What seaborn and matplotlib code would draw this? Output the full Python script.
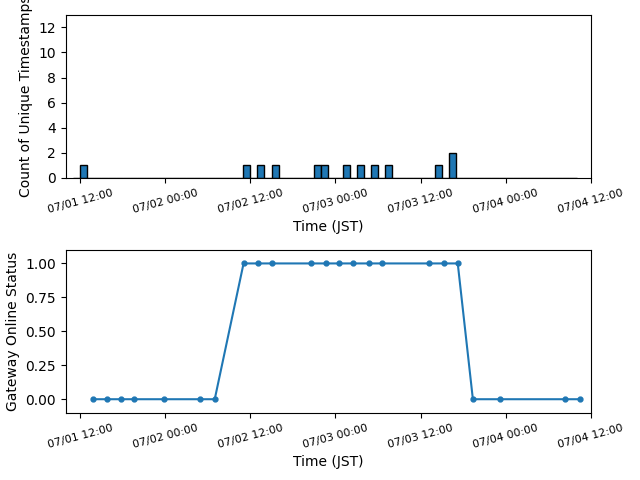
import matplotlib
matplotlib.use("Agg")
import matplotlib.pyplot as plt
import matplotlib.dates as mdates
import matplotlib.ticker as mticker
import seaborn as sns
import pandas as pd
import numpy as np

# Histogram: hourly bins, start time of each non-empty bin and its count
hist_bin_start = ["2024-07-01 12:00", "2024-07-02 11:00", "2024-07-02 13:00",
                  "2024-07-02 15:00", "2024-07-02 21:00", "2024-07-02 22:00",
                  "2024-07-03 01:00", "2024-07-03 03:00", "2024-07-03 05:00",
                  "2024-07-03 07:00", "2024-07-03 14:00", "2024-07-03 16:00"]
hist_counts = [1, 1, 1, 1, 1, 1, 1, 1, 1, 1, 1, 2]
hist_range = ["2024-07-01 11:00", "2024-07-04 10:00"]
hist_yticks = [0, 2, 4, 6, 8, 10, 12]

# Gateway online status timeline
status_times = ["2024-07-01 13:48", "2024-07-01 15:47", "2024-07-01 17:44",
                "2024-07-01 19:40", "2024-07-01 23:51", "2024-07-02 04:51",
                "2024-07-02 06:59", "2024-07-02 11:03", "2024-07-02 13:03",
                "2024-07-02 15:02", "2024-07-02 20:31", "2024-07-02 22:37",
                "2024-07-03 00:33", "2024-07-03 02:33", "2024-07-03 04:41",
                "2024-07-03 06:37", "2024-07-03 13:16", "2024-07-03 15:16",
                "2024-07-03 17:15", "2024-07-03 19:23", "2024-07-03 23:16",
                "2024-07-04 08:24", "2024-07-04 10:26"]
status_values = [0, 0, 0, 0, 0, 0, 0, 1, 1, 1, 1, 1, 1, 1, 1, 1, 1, 1, 1, 0, 0, 0, 0]
status_yticks = [0, 0.25, 0.5, 0.75, 1.0]

x_limits = ["2024-07-01 10:00", "2024-07-04 12:00"]


def to_num(strings):
    return mdates.date2num(np.array(pd.to_datetime(strings).to_pydatetime()))


hist_df = pd.DataFrame({
    "tn": to_num(hist_bin_start) + 0.5 / 24,
    "n": hist_counts,
})
hr = to_num(hist_range)

status_df = pd.DataFrame({"t": pd.to_datetime(status_times), "v": status_values})

fig, (ax1, ax2) = plt.subplots(2, 1, figsize=(6.4, 4.8), dpi=100)
fig.subplots_adjust(left=0.103, right=0.923, top=0.969, bottom=0.140, hspace=0.442)

sns.histplot(data=hist_df, x="tn", weights="n", binwidth=1 / 24,
             binrange=(hr[0], hr[1]), ax=ax1,
             color="#1f77b4", alpha=1.0, edgecolor="black", linewidth=1)
ax1.xaxis_date()
ax1.set_ylim(0, 13)
ax1.set_yticks(hist_yticks)
ax1.set_ylabel("Count of Unique Timestamps")
ax1.set_xlabel("Time (JST)")

sns.lineplot(data=status_df, x="t", y="v", ax=ax2, color="#1f77b4",
             marker=".", markersize=7, markeredgecolor="#1f77b4",
             markeredgewidth=1, linewidth=1.5)
ax2.set_ylim(-0.1, 1.1)
ax2.set_yticks(status_yticks)
ax2.yaxis.set_major_formatter(mticker.FormatStrFormatter("%.2f"))
ax2.set_ylabel("Gateway Online Status")
ax2.set_xlabel("Time (JST)")

xl = to_num(x_limits)
ticks = pd.date_range("2024-07-01 12:00", "2024-07-04 12:00", freq="12h")
tick_nums = mdates.date2num(np.array(ticks.to_pydatetime()))
for ax in (ax1, ax2):
    ax.set_xlim(xl[0], xl[1])
    ax.set_xticks(tick_nums)
    ax.xaxis.set_major_formatter(mdates.DateFormatter("%m/%d %H:%M"))
    for lab in ax.get_xticklabels():
        lab.set_rotation(15)
        lab.set_fontsize(8)

fig.savefig("out.png", dpi=100)
